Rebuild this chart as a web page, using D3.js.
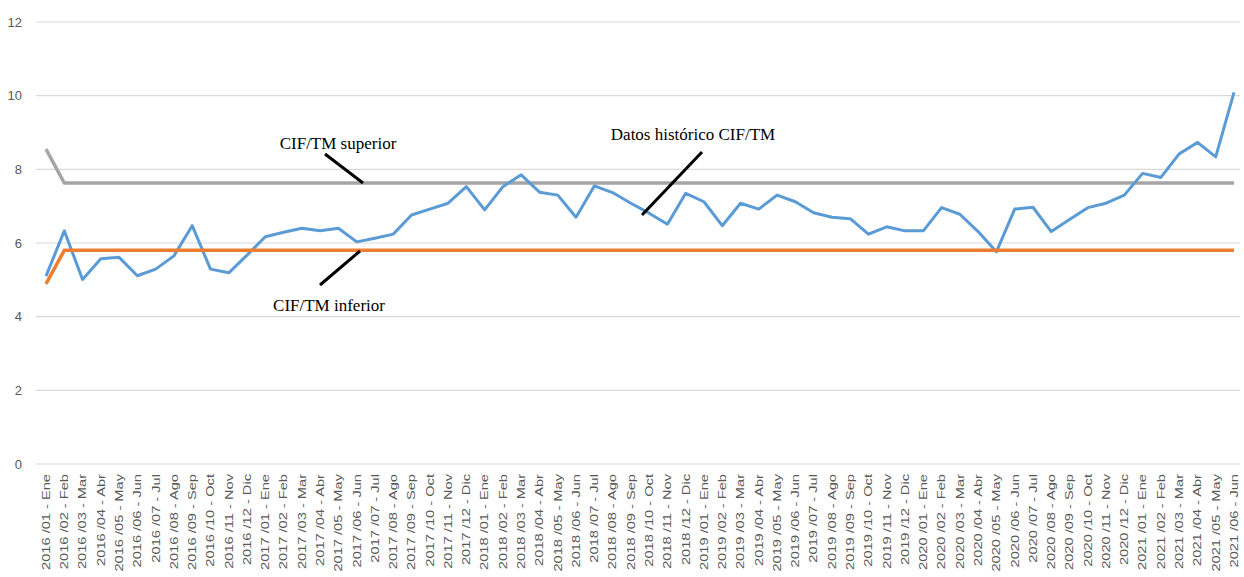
<!DOCTYPE html>
<html>
<head>
<meta charset="utf-8">
<script src="https://cdn.jsdelivr.net/npm/d3@7"></script>
<style>
  body { margin: 0; background: #fff; }
  svg { display: block; }
  .tick-label { font-family: "Liberation Sans", Arial, sans-serif; fill: #595959; }
  .note { font-family: "Liberation Serif", "Times New Roman", serif; font-size: 17px; fill: #000; }
</style>
</head>
<body>
<svg id="chart" width="1244" height="577"></svg>
<script>
// month names used in the x labels
const monthNames = ["Ene", "Feb", "Mar", "Abr", "May", "Jun", "Jul", "Ago", "Sep", "Oct", "Nov", "Dic"]

// categories: 2016/01 .. 2021/06
const categories = []
for (let y = 2016; y <= 2021; y++) {
    for (let m = 1; m <= 12; m++) {
        if (y === 2021 && m > 6) break
        categories.push(`${y} /${String(m).padStart(2, "0")} - ${monthNames[m - 1]}`)
    }
}

// Datos histórico CIF/TM
const historico = [
    5.10, 6.33, 5.01, 5.57, 5.61, 5.11, 5.29, 5.65, 6.47, 5.29, 5.19, 5.67,
    6.17, 6.29, 6.40, 6.33, 6.40, 6.03, 6.13, 6.24, 6.76, 6.92, 7.08, 7.53,
    6.90, 7.53, 7.85, 7.38, 7.30, 6.70, 7.55, 7.37, 7.08, 6.81, 6.51, 7.35,
    7.12, 6.47, 7.08, 6.92, 7.30, 7.12, 6.82, 6.70, 6.66, 6.24, 6.44, 6.33,
    6.33, 6.96, 6.78, 6.31, 5.76, 6.92, 6.97, 6.31, 6.64, 6.96, 7.08, 7.30,
    7.89, 7.78, 8.42, 8.73, 8.34, 10.09
]
// control limits
const superior = categories.map((c, i) => i === 0 ? 8.55 : 7.63)
const inferior = categories.map((c, i) => i === 0 ? 4.89 : 5.80)

const yTicks = [0, 2, 4, 6, 8, 10, 12]

const svg = d3.select("#chart")

const x = d3.scalePoint()
    .domain(categories)
    .range([46, 1234])

const y = d3.scaleLinear()
    .domain([0, 12])
    .range([464, 22])

/* grid lines */
svg.append("g")
    .selectAll("line")
    .data(yTicks)
    .join("line")
    .attr("x1", 36)
    .attr("x2", 1240)
    .attr("y1", d => y(d))
    .attr("y2", d => y(d))
    .attr("stroke", "#d9d9d9")
    .attr("stroke-width", 1.2)

/* y axis labels */
svg.append("g")
    .selectAll("text")
    .data(yTicks)
    .join("text")
    .attr("class", "tick-label")
    .attr("x", 22)
    .attr("y", d => y(d))
    .attr("dy", "0.35em")
    .attr("text-anchor", "end")
    .style("font-size", "13px")
    .text(d => d)

/* x axis labels, rotated and stretched like the original */
svg.append("g")
    .selectAll("text")
    .data(categories)
    .join("text")
    .attr("class", "tick-label")
    .attr("transform", d => `translate(${x(d)},474) scale(1,1.33) rotate(-90)`)
    .attr("dy", "0.35em")
    .attr("text-anchor", "end")
    .style("font-size", "11px")
    .text(d => d)

const line = d3.line()
    .x((d, i) => x(categories[i]))
    .y(d => y(d))

svg.append("path")
    .datum(superior)
    .attr("d", line)
    .attr("fill", "none")
    .attr("stroke", "#a5a5a5")
    .attr("stroke-width", 3.5)
    .attr("stroke-linejoin", "round")

svg.append("path")
    .datum(historico)
    .attr("d", line)
    .attr("fill", "none")
    .attr("stroke", "#5b9bd5")
    .attr("stroke-width", 3)
    .attr("stroke-linejoin", "round")

svg.append("path")
    .datum(inferior)
    .attr("d", line)
    .attr("fill", "none")
    .attr("stroke", "#ed7d31")
    .attr("stroke-width", 3.5)
    .attr("stroke-linejoin", "round")

/* annotations with leader lines */
const notes = [
    { text: "CIF/TM superior", tx: 338, ty: 143, from: [325, 154], to: [363, 183] },
    { text: "CIF/TM inferior", tx: 329, ty: 305, from: [320, 285], to: [360, 251] },
    { text: "Datos histórico CIF/TM", tx: 693, ty: 134, from: [702, 152], to: [642, 215] }
]

const noteGroup = svg.append("g")
noteGroup.selectAll("line")
    .data(notes)
    .join("line")
    .attr("x1", d => d.from[0])
    .attr("y1", d => d.from[1])
    .attr("x2", d => d.to[0])
    .attr("y2", d => d.to[1])
    .attr("stroke", "#000")
    .attr("stroke-width", 3)

noteGroup.selectAll("text")
    .data(notes)
    .join("text")
    .attr("class", "note")
    .attr("x", d => d.tx)
    .attr("y", d => d.ty)
    .attr("dy", "0.35em")
    .attr("text-anchor", "middle")
    .text(d => d.text)
</script>
</body>
</html>
